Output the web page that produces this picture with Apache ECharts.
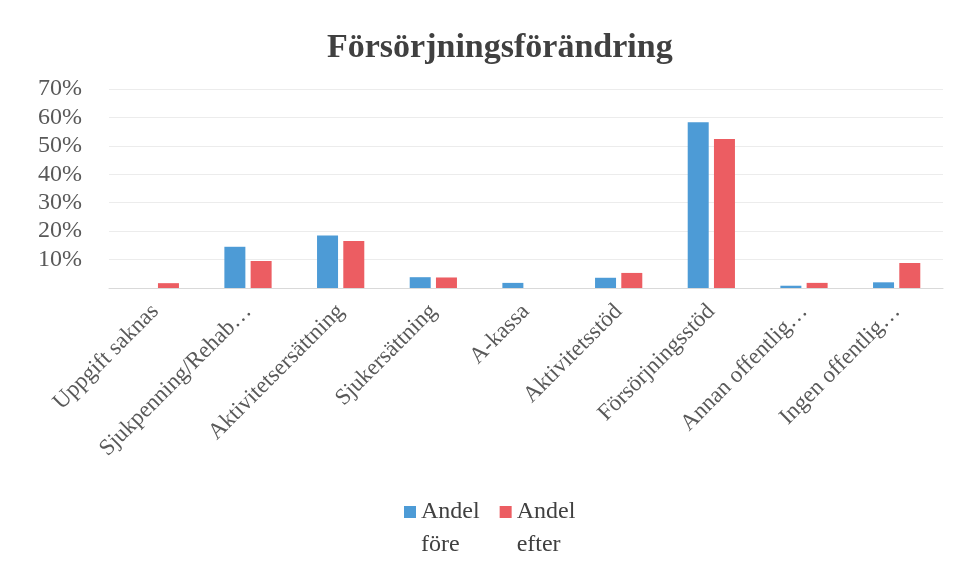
<!DOCTYPE html>
<html>
<head>
<meta charset="utf-8">
<script src="https://cdn.jsdelivr.net/npm/echarts@6/dist/echarts.min.js"></script>
<style>
  html, body { margin: 0; padding: 0; background: #fff; }
</style>
</head>
<body>
<div id="chart" style="width: 961px; height: 580px"></div>
<script>
// kategorier och värden (andel i %)
const categories = [
  "Uppgift saknas",
  "Sjukpenning/Rehab…",
  "Aktivitetsersättning",
  "Sjukersättning",
  "A-kassa",
  "Aktivitetsstöd",
  "Försörjningsstöd",
  "Annan offentlig…",
  "Ingen offentlig…"
];
const andelFore = [0, 14.5, 18.5, 3.8, 1.8, 3.6, 58.3, 0.8, 2];
const andelEfter = [1.7, 9.5, 16.5, 3.7, 0, 5.3, 52.4, 1.8, 8.8];
const yTicks = [0, 10, 20, 30, 40, 50, 60, 70];

const serif = "'Liberation Serif', 'DejaVu Serif', serif";

// kvadrat i höjd med första textraden (osynliga punkter ger höjden)
const legendIcon = "path://M0,0L0.01,0Z M0,11L12,11L12,23L0,23Z M0,66L0.01,66Z";

const myChart = echarts.init(document.getElementById("chart"));

const option = {
  title: {
    text: "Försörjningsförändring",
    left: 322,
    top: 26,
    textStyle: {
      fontFamily: serif,
      fontWeight: "bold",
      fontSize: 34,
      color: "#404040"
    }
  },
  legend: {
    top: 495,
    left: 404,
    padding: 0,
    itemWidth: 12,
    itemHeight: 66,
    itemGap: 20,
    icon: legendIcon,
    data: ["Andel\nföre", "Andel\nefter"],
    textStyle: {
      fontFamily: serif,
      fontSize: 24,
      color: "#404040",
      lineHeight: 33
    }
  },
  grid: {
    left: 109,
    right: 18,
    top: 89,
    height: 199
  },
  xAxis: {
    type: "category",
    data: categories,
    axisLine: { lineStyle: { color: "#d9d9d9" } },
    axisTick: { show: false },
    axisLabel: {
      interval: 0,
      rotate: 45,
      margin: 20,
      fontFamily: serif,
      fontSize: 23,
      color: "#595959"
    }
  },
  yAxis: {
    type: "value",
    min: yTicks[0],
    max: yTicks[yTicks.length - 1],
    interval: 10,
    axisLine: { show: false },
    axisTick: { show: false },
    splitLine: { lineStyle: { color: "#ececec" } },
    axisLabel: {
      margin: 27,
      fontFamily: serif,
      fontSize: 24,
      color: "#595959",
      formatter: v => (v === 0 ? "" : v + "%")
    }
  },
  series: [
    {
      name: "Andel\nföre",
      type: "bar",
      data: andelFore,
      barWidth: 21,
      barGap: "25%",
      itemStyle: { color: "#4d9bd6" }
    },
    {
      name: "Andel\nefter",
      type: "bar",
      data: andelEfter,
      barWidth: 21,
      itemStyle: { color: "#ec5d62" }
    }
  ]
};

myChart.setOption(option);
</script>
</body>
</html>
